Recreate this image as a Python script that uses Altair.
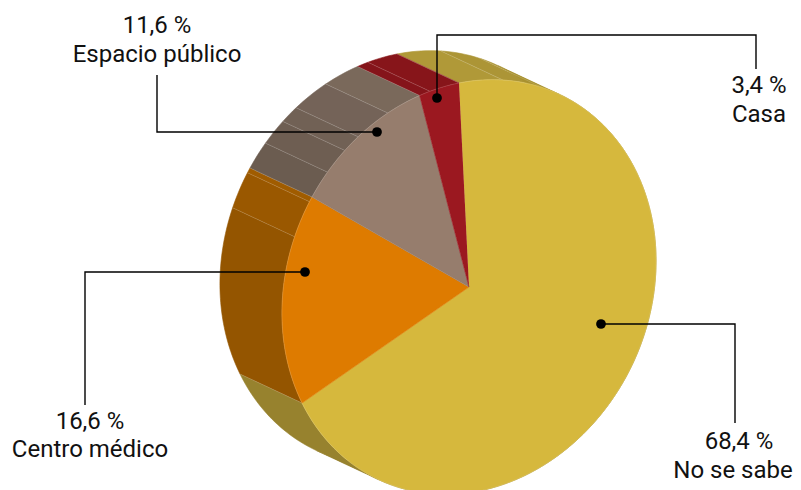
import math
import altair as alt
import pandas as pd

# Chart values
categories = ["No se sabe", "Centro médico", "Espacio público", "Casa"]
shares = [68.4, 16.6, 11.6, 3.4]
share_labels = ["68,4 %", "16,6 %", "11,6 %", "3,4 %"]
top_colors = ["#D6B83D", "#DE7B00", "#967D6D", "#9B1820"]

# Side wall bands: end of band (cumulative %) and its shade
band_ends = [3.75, 7.3, 8.9, 30, 58.9, 68.4, 81.75, 84.6, 85, 87.2, 89.3, 90.75, 93.7, 96.6, 97.5, 100]
band_colors = ["#B09938", "#AC9536", "#A8912F", "#A8912F", "#97822E", "#97822E", "#945500", "#9A5800", "#A05C00",
               "#6B5C50", "#6E5E52", "#716155", "#746358", "#7A695B", "#85141A", "#87151A"]
# Band ends that are only turning points of the wall and show no seam
no_seam = [8.9, 30, 58.9]

# Projection of the tilted disc on the page
CX, CY = 461, 279
UX, UY = 186.8, -37.0
VX, VY = 10.0, 204.0
EX, EY = -62, -29


def rim(pct, extruded=False):
    t = math.radians(pct * 3.6)
    s, c = math.sin(t), math.cos(t)
    x = CX + UX * s - VX * c + (EX if extruded else 0)
    y = CY + UY * s - VY * c + (EY if extruded else 0)
    return x, y


def arc(a, b):
    n = max(2, int(abs(b - a) * 3) + 1)
    return [a + (b - a) * i / (n - 1) for i in range(n)]


side_rows = []
start = 0.0
for i, (end, col) in enumerate(zip(band_ends, band_colors)):
    pts = [rim(p) for p in arc(start, end)] + [rim(p, True) for p in arc(end, start)]
    for k, (x, y) in enumerate(pts):
        side_rows.append(dict(id=f"s{i:02d}", k=k, x=x, y=y, c=col))
    start = end

seam_rows = []
for i, end in enumerate(band_ends):
    if end in no_seam:
        continue
    for k, (x, y) in enumerate([rim(end), rim(end, True)]):
        seam_rows.append(dict(id=f"l{i:02d}", k=k, x=x, y=y))

top_rows, rim_rows = [], []
start = 0.0
for i, (v, col) in enumerate(zip(shares, top_colors)):
    end = start + v
    pts = [(float(CX), float(CY))] + [rim(p) for p in arc(start, end)]
    for k, (x, y) in enumerate(pts):
        top_rows.append(dict(id=f"t{i}", k=k, x=x, y=y, c=col))
    for k, p in enumerate(arc(start, end)):
        x, y = rim(p)
        rim_rows.append(dict(id=f"r{i}", k=k, x=x, y=y))
    start = end

# Callouts (page positions less the 8px margin)
dots_x = [593, 297, 369, 429]
dots_y = [316, 264, 124, 90]
leader_x = [[593, 727, 727], [297, 77, 77], [369, 149, 149], [429, 429, 748, 748]]
leader_y = [[316, 316, 415], [264, 264, 397], [124, 124, 67], [90, 27, 27, 61]]
pct_x = [731, 82, 149, 751]
name_x = [725, 82, 149, 751]
pct_y = [441, 421, 25, 85]
name_y = [470, 449, 54, 114]

leader_rows = []
for i, (xs, ys) in enumerate(zip(leader_x, leader_y)):
    for k, (x, y) in enumerate(zip(xs, ys)):
        leader_rows.append(dict(id=f"c{i}", k=k, x=x, y=y))
text_rows = []
for i in range(4):
    text_rows.append(dict(x=pct_x[i], y=pct_y[i], t=share_labels[i]))
    text_rows.append(dict(x=name_x[i], y=name_y[i], t=categories[i]))
dot_rows = [dict(x=a, y=b) for a, b in zip(dots_x, dots_y)]

W, H = 785, 482
X = alt.X("x:Q", scale=alt.Scale(domain=[0, W], range=[0, W], nice=False, zero=False), axis=None)
Y = alt.Y("y:Q", scale=alt.Scale(domain=[0, H], range=[0, H], nice=False, zero=False), axis=None)


def polygons(rows):
    return alt.Chart(pd.DataFrame(rows)).mark_line(strokeWidth=0.6, interpolate="linear").encode(
        x=X, y=Y, detail="id:N", order="k:Q",
        fill=alt.Fill("c:N", scale=None, legend=None),
        stroke=alt.Stroke("c:N", scale=None, legend=None),
    )


def lines(rows, **kw):
    return alt.Chart(pd.DataFrame(rows)).mark_line(**kw).encode(x=X, y=Y, detail="id:N", order="k:Q")


chart = alt.layer(
    polygons(side_rows),
    lines(seam_rows, color="#FFFFFF", opacity=0.25, strokeWidth=0.6),
    polygons(top_rows),
    lines(rim_rows, color="#FFFFFF", opacity=0.2, strokeWidth=0.7),
    lines(leader_rows, color="#000000", strokeWidth=1.4),
    alt.Chart(pd.DataFrame(dot_rows)).mark_circle(color="#000000", size=95, opacity=1).encode(x=X, y=Y),
    alt.Chart(pd.DataFrame(text_rows)).mark_text(font="Roboto", fontSize=24, color="#111111", align="center", baseline="alphabetic").encode(x=X, y=Y, text="t:N"),
).properties(width=W, height=H, padding=0, autosize=alt.AutoSizeParams(type="none"), background="#FFFFFF").configure_view(stroke=None)

chart.save("out.html", embed_options={"renderer": "svg", "actions": False})
